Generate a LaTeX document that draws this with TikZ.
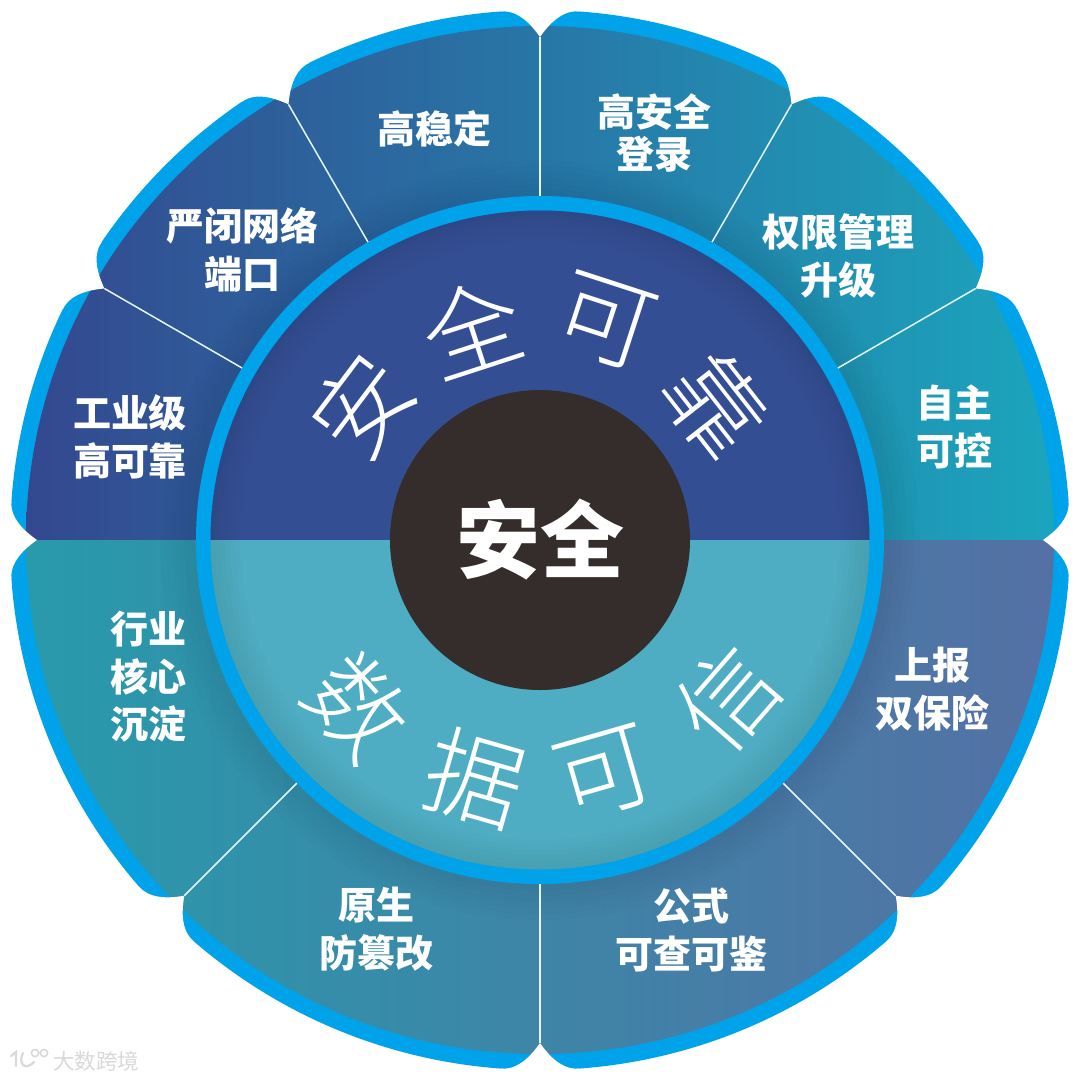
\documentclass[tikz,border=0pt]{standalone}
\usepackage{fontspec}
\setmainfont{Noto Sans CJK SC}
\newfontfamily\cjklight{Noto Sans CJK SC Light}
\definecolor{ringblue}{HTML}{00A2EA}
\definecolor{uphalf}{HTML}{344E93}
\definecolor{lowhalf}{HTML}{4EADC3}
\definecolor{hub}{HTML}{352D2B}
\tikzset{
  lab/.style={text=white,align=center,font=\fontsize{38}{47.5}\selectfont\bfseries,inner sep=0pt},
  arcch/.style={text=white,font=\fontsize{98}{98}\selectfont\cjklight,inner sep=0pt},
  sep/.style={draw=white!90!ringblue,line width=1.5pt},
  wm/.style={text=black!15,font=\fontsize{21.5}{22}\selectfont,inner sep=0pt}
}
\begin{document}
\begin{tikzpicture}[x=1pt,y=-1pt]
\useasboundingbox (0,0) rectangle (1080,1080);
\fill[white] (0,0) rectangle (1080,1080);
\coordinate (c) at (540,540);
% outer band
\fill[ringblue] (c) circle (530pt);
% sector fills
\begin{scope}
  \clip (c) circle (514pt);
  \shade[left color={rgb,255:red,52;green,72;blue,143},middle color={rgb,255:red,42;green,118;blue,167},right color={rgb,255:red,27;green,165;blue,189}] (26,26) rectangle (1054,540);
  \shade[left color={rgb,255:red,40;green,154;blue,171},middle color={rgb,255:red,62;green,129;blue,167},right color={rgb,255:red,84;green,112;blue,164}] (26,540) rectangle (1054,1054);
  \foreach \r in {350,356,...,380}{\fill[black,opacity=.010] (c) circle (\r pt);}
\end{scope}
% ring and inner halves
\fill[ringblue] (c) circle (344pt);
\begin{scope}
  \clip (c) circle (329.5pt);
  \fill[uphalf] (200,200) rectangle (880,540);
  \fill[lowhalf] (200,540) rectangle (880,880);
  \foreach \r in {300,305,...,325}{\fill[black,opacity=.012,even odd rule] (c) circle (331pt) circle (\r pt);}
\end{scope}
\fill[hub] (c) circle (150pt);
% notches in the outer edge
\foreach \a in {0,30,60,90,120,150,180,225,270,315}{
  \fill[white] ([shift={(\a+4.2:530pt)}]c)
    .. controls ([shift={(\a+2.4:530.5pt)}]c) and ([shift={(\a+1:516pt)}]c) .. ([shift={(\a:503pt)}]c)
    .. controls ([shift={(\a-1:516pt)}]c) and ([shift={(\a-2.4:530.5pt)}]c) .. ([shift={(\a-4.2:530pt)}]c)
    -- ([shift={(\a-4.2:540pt)}]c) -- ([shift={(\a+4.2:540pt)}]c) -- cycle;
}
% separators
\foreach \a in {30,60,90,120,150,225,270,315}{
  \draw[sep] ([shift={(\a:503pt)}]c) -- ([shift={(\a:344pt)}]c);
}
% sector labels
\node[lab] (l1) at (434,129) {高稳定};
\node[lab] (l2) at (654,133) {高安全\\[-6pt]登录};
\node[lab] (l3) at (838,256) {权限管理\\升级};
\node[lab] (l4) at (954,427) {自主\\可控};
\node[lab] (l5) at (932,689) {上报\\双保险};
\node[lab] (l6) at (691,930) {公式\\可查可鉴};
\node[lab] (l7) at (376,929) {原生\\防篡改};
\node[lab] (l8) at (148,677) {行业\\核心\\沉淀};
\node[lab] (l9) at (130,437) {工业级\\高可靠};
\node[lab] (l10) at (242,250) {严闭网络\\端口};
% curved texts
\node[arcch,rotate=53] (a1) at (362,406) {安};
\node[arcch,rotate=18] (a2) at (472,328) {全};
\node[arcch,rotate=-18] (a3) at (606,322) {可};
\node[arcch,rotate=-52] (a4) at (716,405) {靠};
\node[arcch,rotate=-48] (b1) at (358,707) {数};
\node[arcch,rotate=-16] (b2) at (475,778) {据};
\node[arcch,rotate=16] (b3) at (604,774) {可};
\node[arcch,rotate=49] (b4) at (728,698) {信};
% centre
\node[text=white,font=\fontsize{84}{84}\selectfont\bfseries,inner sep=0pt] (hubt) at (540,540) {安全};
% watermark
\node[wm] (wmt) at (96,1061) {大数跨境};
\draw[black!15,line width=2.2pt,line cap=round] (11,1056) -- (16,1052) -- (16,1066);
\draw[black!15,line width=2.2pt,line cap=round] (23,1053) .. controls (18,1062) and (24,1072) .. (34,1062);
\draw[black!15,line width=1.6pt] (35,1053) circle (3.6pt) (44,1053) circle (3.6pt);
\end{tikzpicture}
\end{document}
